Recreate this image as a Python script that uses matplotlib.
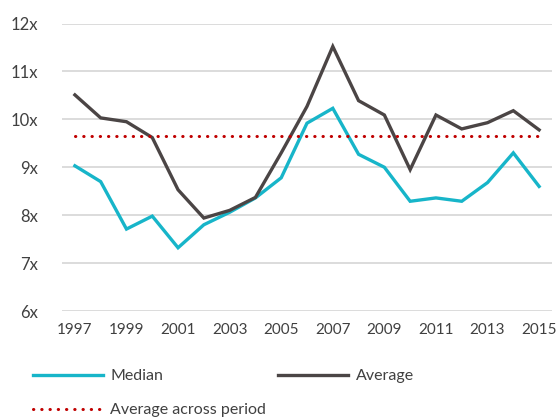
import matplotlib
matplotlib.use("Agg")
import matplotlib.pyplot as plt

# P/E style multiples, 1997-2015
years = list(range(1997, 2016))
median = [9.03, 8.70, 7.71, 7.98, 7.32, 7.80, 8.06, 8.36, 8.78, 9.92, 10.23,
          9.27, 9.00, 8.29, 8.36, 8.29, 8.68, 9.30, 8.60]
average = [10.51, 10.03, 9.95, 9.62, 8.53, 7.94, 8.10, 8.37, 9.30, 10.27, 11.52,
           10.39, 10.09, 8.95, 10.09, 9.80, 9.93, 10.18, 9.78]
period_avg = 9.66

y_ticks = [6, 7, 8, 9, 10, 11, 12]
x_ticks = [1997, 1999, 2001, 2003, 2005, 2007, 2009, 2011, 2013, 2015]

plt.rcParams['font.family'] = ['Lato', 'DejaVu Sans']
text_col = '#404040'

fig = plt.figure(figsize=(5.57, 4.18), dpi=100)
ax = fig.add_axes([62 / 557, 1 - 311 / 418, 490 / 557, (311 - 23.5) / 418])

l_med, = ax.plot(years, median, color='#17b5c9', lw=2.4, solid_joinstyle='miter', label='Median')
l_avg, = ax.plot(years, average, color='#4b4545', lw=2.4, solid_joinstyle='miter', label='Average')
l_per, = ax.plot(years, [period_avg] * len(years), color='#c00000', lw=2.2,
                 linestyle=(0, (0.1, 2.6)), dash_capstyle='round', label='Average across period')

ax.set_xlim(1996.5, 2015.5)
ax.set_ylim(6, 12)
ax.set_yticks(y_ticks)
ax.set_yticklabels([f'{v}x' for v in y_ticks])
ax.set_xticks(x_ticks)
ax.grid(axis='y', color='#d9d9d9', lw=1.3)
ax.set_axisbelow(True)
for s in ax.spines.values():
    s.set_visible(False)
ax.tick_params(axis='y', length=0, pad=17, labelsize=12, labelcolor=text_col)
ax.tick_params(axis='x', length=0, pad=9, labelsize=11, labelcolor=text_col)

common = dict(frameon=False, fontsize=11.5, handlelength=4.4, handletextpad=0.45,
              borderpad=0, borderaxespad=0, loc='center left', labelcolor=text_col)
fig.legend(handles=[l_med], bbox_to_anchor=(33 / 557, 1 - 376 / 418), **common)
fig.legend(handles=[l_avg], bbox_to_anchor=(278 / 557, 1 - 376 / 418), **common)
fig.legend(handles=[l_per], bbox_to_anchor=(33 / 557, 1 - 410 / 418), **common)

fig.savefig('out.png', dpi=100)
